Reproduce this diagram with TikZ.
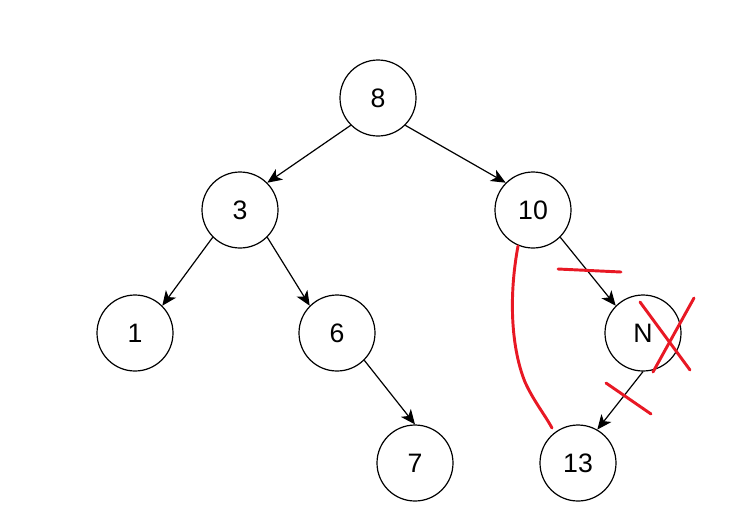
\documentclass[tikz,border=0pt]{standalone}
\usepackage{fontspec}
\setmainfont{Liberation Sans}
\usetikzlibrary{arrows.meta}
\definecolor{penred}{RGB}{232,24,36}

\begin{document}
\begin{tikzpicture}[
    x=0.75pt, y=-0.75pt,
    vert/.style={draw, circle, line width=0.9pt, minimum size=57pt, inner sep=0pt,
                 font=\fontsize{20}{24}\selectfont},
    link/.style={-{Stealth[length=11pt,width=9.5pt,inset=3pt]}, line width=0.9pt},
    scribble/.style={draw=penred, line width=2.2pt, line cap=round}
]
\useasboundingbox (0,0) rectangle (739,512);

% nodes
\node[vert] (n8)  at (378,98)  {8};
\node[vert] (n3)  at (240,210) {3};
\node[vert] (n10) at (533,210) {10};
\node[vert] (n1)  at (135,333) {1};
\node[vert] (n6)  at (337,333) {6};
\node[vert] (nN)  at (643,333) {N};
\node[vert] (n7)  at (415,463) {7};
\node[vert] (n13) at (578,463) {13};

% edges
\draw[link] (n8.south west) -- (n3.north east);
\draw[link] (n8.south east) -- (n10.north west);
\draw[link] (n3.south west) -- (n1.north east);
\draw[link] (n3.south east) -- (n6.north west);
\draw[link] (n6.south east) -- (n7.north);
\draw[link] (n10.south east) -- (nN.north west);
\draw[link] (nN.south) -- (n13.60);

% red marks: N removed, 13 moves up under 10
\draw[scribble] (518,246) .. controls (508,300) and (512,350) .. (525,382)
                           .. controls (533,400) and (545,415) .. (552,428);
\draw[scribble] (558,269) -- (621,272);
\draw[scribble] (640,302) -- (690,370);
\draw[scribble] (694,298) -- (653,372);
\draw[scribble] (606,383) -- (651,414);

\end{tikzpicture}
\end{document}
